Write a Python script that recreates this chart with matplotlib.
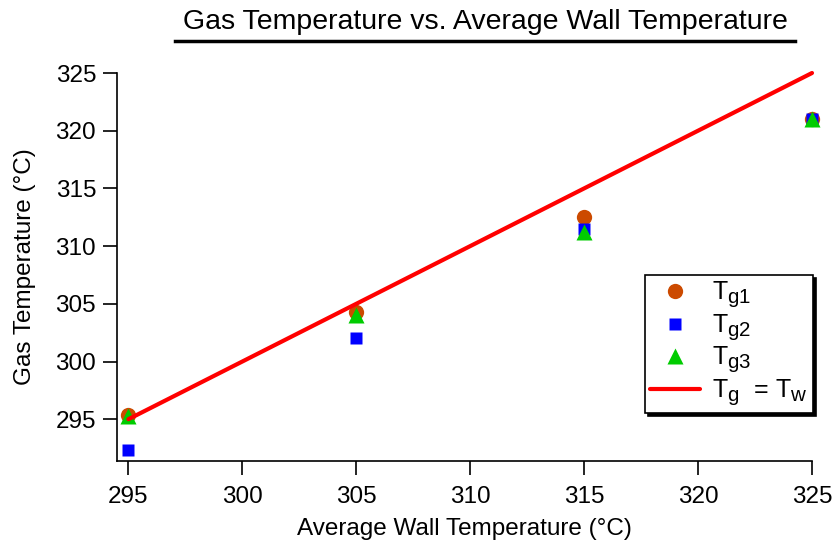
import matplotlib
matplotlib.use("Agg")
import matplotlib.pyplot as plt
from matplotlib import _mathtext
from matplotlib.lines import Line2D

plt.rcParams["font.family"] = ["Liberation Sans", "DejaVu Sans"]
plt.rcParams["mathtext.fontset"] = "custom"
plt.rcParams["mathtext.rm"] = "Liberation Sans"
plt.rcParams["mathtext.it"] = "Liberation Sans"
# bigger subscripts in the legend, closer to the original look
_mathtext.SHRINK_FACTOR = 0.82

# wall temperature (x) and the three gas temperature readings
wall_temp = [295, 305, 315, 325]
tg1 = [295.4, 304.3, 312.5, 321.0]
tg2 = [292.3, 302.0, 311.5, 321.0]
tg3 = [295.3, 304.0, 311.2, 321.0]
ident = [295, 325]  # Tg = Tw reference line

fig = plt.figure(figsize=(8.32, 5.42), dpi=100)
ax = fig.add_axes([117 / 832, 1 - 461 / 542, (812 - 117) / 832, (461 - 73) / 542])

ax.plot(wall_temp, tg1, "o", color="#cc4a00", ms=11, mec="none",
        label=r"T$_{\mathrm{g1}}$", clip_on=False, zorder=3)
ax.plot(wall_temp, tg2, "s", color="#0000ff", ms=9, mec="none",
        label=r"T$_{\mathrm{g2}}$", clip_on=False, zorder=4)
ax.plot(wall_temp, tg3, "^", color="#00cc00", ms=11, mec="none",
        label=r"T$_{\mathrm{g3}}$", clip_on=False, zorder=5)
ax.plot(ident, ident, "-", color="#ff0000", lw=3, solid_capstyle="round",
        label=r"T$_{\mathrm{g}}$  = T$_{\mathrm{w}}$", clip_on=False, zorder=6)

ax.set_xlim(294.5, 325)
ax.set_ylim(291.38, 325)
ax.set_xticks([295, 300, 305, 310, 315, 320, 325])
ax.set_yticks([295, 300, 305, 310, 315, 320, 325])
for s in ["top", "right"]:
    ax.spines[s].set_visible(False)
for s in ["left", "bottom"]:
    ax.spines[s].set_linewidth(1.2)
ax.tick_params(direction="out", length=10, width=1.2, labelsize=17.5)
ax.tick_params(axis="x", pad=8)
ax.tick_params(axis="y", pad=5)

ax.set_xlabel("Average Wall Temperature (°C)", fontsize=17.5, labelpad=7)
ax.set_ylabel("Gas Temperature (°C)", fontsize=17.5, labelpad=14)

leg = ax.legend(loc="upper left", bbox_to_anchor=(645 / 832, 1 - 275 / 542),
                bbox_transform=fig.transFigure, fontsize=18, frameon=True,
                fancybox=False, edgecolor="black", framealpha=1,
                borderaxespad=0, borderpad=0.2, handlelength=2.0,
                handletextpad=0.5, labelspacing=0.1,
                shadow={"color": "black", "alpha": 1})
leg.get_frame().set_linewidth(1.2)

fig.text(485 / 832, 1 - 22 / 542, "Gas Temperature vs. Average Wall Temperature",
         ha="center", va="center", fontsize=20.5)
fig.add_artist(Line2D([175 / 832, 795 / 832], [1 - 41 / 542, 1 - 41 / 542],
                      color="black", lw=2.5, transform=fig.transFigure))

fig.savefig("out.png", dpi=100)
